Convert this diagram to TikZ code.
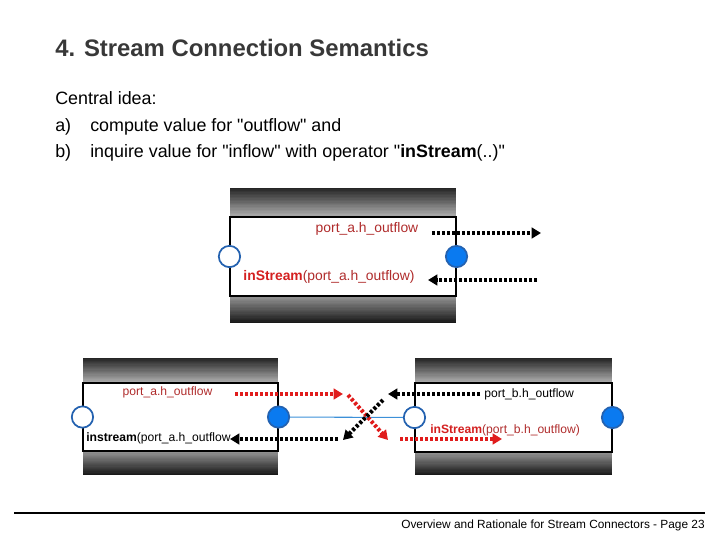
\documentclass[tikz,border=0pt]{standalone}
\usepackage{fontspec}
\setmainfont{Liberation Sans}[Ligatures=TeXOff]
\usepackage{tikz}
\usetikzlibrary{positioning,calc,arrows.meta}

\definecolor{titlegray}{HTML}{383838}
\definecolor{labelred}{HTML}{B02C2C}
\definecolor{streamred}{HTML}{D42020}
\definecolor{flowred}{HTML}{E01C1C}
\definecolor{portblue}{HTML}{0A7AF0}
\definecolor{rimblue}{HTML}{2462B0}
\definecolor{linkblue}{HTML}{3C90D8}

% grey band: x1, x2, y top, y bottom, black% at top, black% at bottom
\newcommand{\greyband}[6]{%
  \foreach \k in {0,...,19}{
    \pgfmathsetmacro{\bandpct}{#5+(#6-#5)*\k/19}
    \fill[black!\bandpct] (#1,{#3+(#4-#3)*\k/20}) rectangle (#2,{#3+(#4-#3)*(\k+1)/20+0.4});
  }}

\begin{document}
\begin{tikzpicture}[
    x=0.75pt, y=-0.75pt,
    box/.style={
        rectangle,
        draw,
        fill=white,
        line width=0.8pt,
        inner sep=0pt
    },
    port/.style={circle, draw=rimblue, line width=1.3pt, minimum size=16pt, inner sep=0pt},
    outport/.style={port, fill=portblue},
    inport/.style={port, fill=white},
    toplbl/.style={inner sep=0pt, font=\fontsize{10.4}{12}\selectfont},
    botlbl/.style={inner sep=0pt, font=\fontsize{9.1}{11}\selectfont},
    body/.style={anchor=base west, inner sep=0pt, font=\fontsize{13.4}{16}\selectfont},
    flow/.style={line width=3pt, dash pattern=on 2.25pt off 1.5pt,
        -{Triangle[length=7pt,width=8pt]}}
]
\useasboundingbox (0,0) rectangle (720,540);

\node[anchor=base west, inner sep=0pt, text=titlegray,
    font=\bfseries\fontsize{17.9}{20}\selectfont] (title) at (55,56) {4. Stream Connection Semantics};
\node[body] (idea) at (55,104) {Central idea:};
\node[body] (itemA) at (55,131) {a)};
\node[body] (textA) at (90,131) {compute value for "outflow" and};
\node[body] (itemB) at (55,157) {b)};
\node[body] (textB) at (90,157) {inquire value for "inflow" with operator "\textbf{inStream}(..)"};

% single component
\greyband{230}{456}{188}{217}{85}{32}
\greyband{230}{456}{296}{323}{42}{90}
\node[box, minimum width=169.5pt, minimum height=59.25pt] (boxA) at (343,256.5) {};
\node[inport] (aIn) at (boxA.west) {};
\node[outport] (aOut) at (boxA.east) {};
\node[toplbl, text=labelred] (aOutTxt) at (367,229) {port\_a.h\_outflow};
\node[toplbl, text=labelred] (aInTxt) at (329,277) {\textcolor{streamred}{\bfseries inStream}(port\_a.h\_outflow)};
\coordinate (aOutStart) at (432,233);
\coordinate (aOutEnd) at (541,233);
\coordinate (aInStart) at (537,280);
\coordinate (aInEnd) at (428,280);
\draw[flow] (aOutStart) -- (aOutEnd);
\draw[flow] (aInStart) -- (aInEnd);

% two connected components
\greyband{83}{278}{358}{383}{85}{32}
\greyband{83}{278}{451}{475}{42}{90}
\node[box, minimum width=146.25pt, minimum height=51pt] (boxL) at (180.5,417) {};
\greyband{415}{612}{358}{383}{85}{32}
\greyband{415}{612}{452}{475}{42}{90}
\node[box, minimum width=147.75pt, minimum height=51.75pt] (boxR) at (513.5,417.5) {};

\node[inport] (lIn) at (boxL.west) {};
\node[outport] (lOut) at (boxL.east) {};
\node[inport] (rIn) at (boxR.west) {};
\node[outport] (rOut) at (boxR.east) {};
\draw[linkblue, line width=0.8pt] (lOut) -- (rIn);

\node[botlbl, text=labelred] (lOutTxt) at (167.5,392) {port\_a.h\_outflow};
\node[botlbl, anchor=west] (lInTxt) at (86,438) {\textbf{instream}(port\_a.h\_outflow};
\node[botlbl, anchor=west] (rOutTxt) at (484,394) {port\_b.h\_outflow};
\node[botlbl, anchor=west, text=labelred] (rInTxt) at (430,430) {\textcolor{streamred}{\bfseries inStream}(port\_b.h\_outflow)};

\coordinate (redA) at (235,394);
\coordinate (redB) at (343,394);
\coordinate (redC) at (348,395);
\coordinate (redD) at (388,440);
\coordinate (redE) at (400,439);
\coordinate (redF) at (502,439);
\draw[flow, flowred] (redA) -- (redB);
\draw[flow, flowred] (redC) -- (redD);
\draw[flow, flowred] (redE) -- (redF);

\coordinate (blkA) at (480,394);
\coordinate (blkB) at (388,394);
\coordinate (blkC) at (383,400);
\coordinate (blkD) at (343,440);
\coordinate (blkE) at (338,439);
\coordinate (blkF) at (230,439);
\draw[flow] (blkA) -- (blkB);
\draw[flow] (blkC) -- (blkD);
\draw[flow] (blkE) -- (blkF);

\coordinate (ruleL) at (14,513);
\coordinate (ruleR) at (705,513);
\draw[line width=0.9pt] (ruleL) -- (ruleR);
\node[anchor=base east, inner sep=0pt, font=\fontsize{8.9}{10}\selectfont] (footer) at (705,528)
    {Overview and Rationale for Stream Connectors - Page 23};

\end{tikzpicture}
\end{document}
